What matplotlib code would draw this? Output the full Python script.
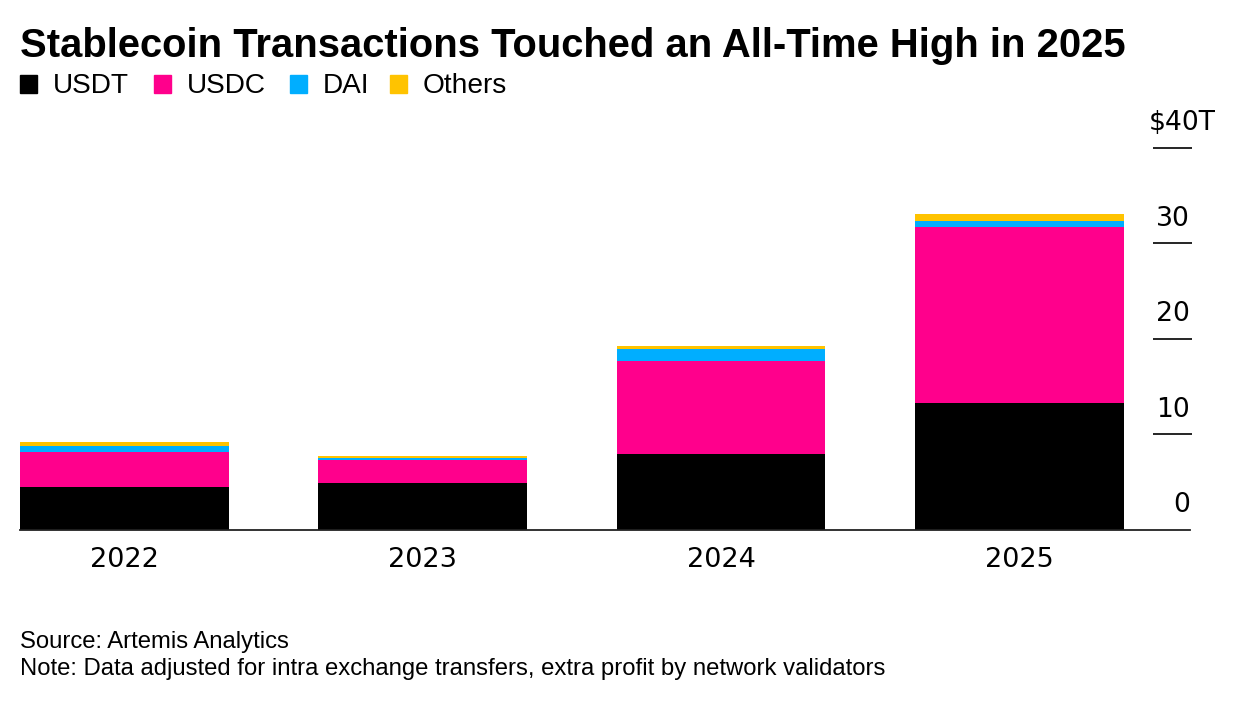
import matplotlib.pyplot as plt
from matplotlib.patches import Rectangle
from matplotlib.transforms import offset_copy
import numpy as np

plt.rcParams['font.family'] = ['Liberation Sans', 'DejaVu Sans']

years = ['2022', '2023', '2024', '2025']
series = ['USDT', 'USDC', 'DAI', 'Others']
usdt = [4.53, 4.95, 7.95, 13.32]
usdc = [3.63, 2.34, 9.76, 18.34]
dai = [0.63, 0.21, 1.19, 0.66]
others = [0.42, 0.24, 0.35, 0.70]
colors = ['#000000', '#ff008c', '#00aeff', '#ffc300']
yticks = [0, 10, 20, 30, 40]
ylabels = ['0', '10', '20', '30', '$40T']

W, H = 1236, 702
fig = plt.figure(figsize=(W / 100, H / 100), dpi=100)
ax = fig.add_axes([20 / W, (H - 530) / H, 1170 / W, (530 - 147.7) / H])

x = np.arange(len(years))
bottom = np.zeros(len(years))
for name, vals, c in zip(series, [usdt, usdc, dai, others], colors):
    ax.bar(x, vals, width=0.7, bottom=bottom, color=c, label=name, linewidth=0)
    bottom += np.array(vals)

ax.set_xlim(-0.35, -0.35 + 1170 / 298.3)
ax.set_ylim(0, 40)
for s in ['top', 'right', 'left']:
    ax.spines[s].set_visible(False)
ax.spines['bottom'].set_linewidth(1.3)
ax.spines['bottom'].set_color('#222222')
ax.set_yticks([])
ax.set_xticks(x)
ax.set_xticklabels(years, fontsize=19.5, family='DejaVu Sans')
ax.tick_params(axis='x', length=0, pad=12)

# right side value guides
yt = ax.get_yaxis_transform()
ax.hlines(yticks[1:], 0.9686, 1.0015, transform=yt, color='black', lw=1.2, clip_on=False)
lab_tr = offset_copy(yt, fig=fig, x=0, y=12.7, units='points')
for v, lab in zip(yticks, ylabels):
    if lab.startswith('$'):
        tr = offset_copy(yt, fig=fig, x=18.5, y=12.7, units='points')
    else:
        tr = lab_tr
    ax.text(1.0, v, lab, transform=tr, ha='right', va='baseline', fontsize=19.2,
            family='DejaVu Sans', clip_on=False)

# title
fig.text(20 / W, 1 - 57 / H, 'Stablecoin Transactions Touched an All-Time High in 2025',
         fontsize=28.8, fontweight='bold', ha='left', va='baseline')

# legend
sq_x = [20, 154, 290, 390]
for sx, name, c in zip(sq_x, series, colors):
    fig.patches.append(Rectangle((sx / W, 1 - 93 / H), 17 / W, 18 / H,
                                 transform=fig.transFigure, color=c, figure=fig))
    fig.text((sx + 33) / W, 1 - 93 / H, name, fontsize=20.2, ha='left', va='baseline')

fig.text(20 / W, 1 - 648 / H, 'Source: Artemis Analytics', fontsize=17.2, ha='left', va='baseline')
fig.text(20 / W, 1 - 675 / H, 'Note: Data adjusted for intra exchange transfers, extra profit by network validators',
         fontsize=17.2, ha='left', va='baseline')

fig.savefig('out.png', dpi=100)
